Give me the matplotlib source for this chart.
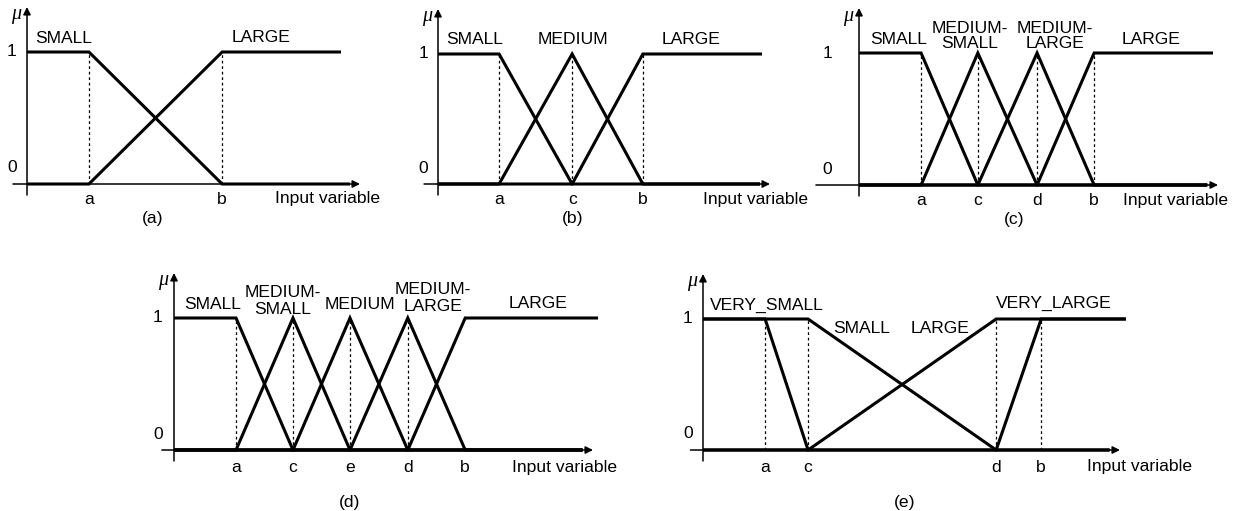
import matplotlib
matplotlib.use('Agg')
import matplotlib.pyplot as plt

plt.rcParams['font.family'] = ['Liberation Sans', 'DejaVu Sans']

W, H, DPI = 1240, 511, 100
FS = 12.6

# ---------------- data (input-variable breakpoints, arrow tip = 10) ----------------
# panel (a)
a_tick_labels = ['a', 'b']
a_tick_x = [1.86, 5.86]
a_dotted_x = [1.86, 5.86]
a_set_names = ['SMALL', 'LARGE']
a_set_x = [[0, 1.86, 5.86, 9.7], [0, 1.86, 5.86, 9.43]]
a_set_mu = [[1, 1, 0, 0], [0, 0, 1, 1]]

# panel (b)
b_tick_labels = ['a', 'c', 'b']
b_tick_x = [1.84, 4.04, 6.17]
b_dotted_x = [1.84, 4.04, 6.17]
b_set_names = ['SMALL', 'MEDIUM', 'LARGE']
b_set_x = [[0, 1.84, 4.04, 9.7], [0, 1.84, 4.04, 6.17, 9.7], [0, 4.04, 6.17, 9.76]]
b_set_mu = [[1, 1, 0, 0], [0, 0, 1, 0, 0], [0, 0, 1, 1]]

# panel (c)
c_tick_labels = ['a', 'c', 'd', 'b']
c_tick_x = [1.73, 3.31, 4.96, 6.55]
c_dotted_x = [1.73, 3.31, 4.96, 6.55]
c_set_names = ['SMALL', 'MEDIUM-\nSMALL', 'MEDIUM-\nLARGE', 'LARGE']
c_set_x = [[0, 1.73, 3.31, 9.7], [0, 1.73, 3.31, 4.96, 9.7],
           [0, 3.31, 4.96, 6.55, 9.7], [0, 4.96, 6.55, 9.86]]
c_set_mu = [[1, 1, 0, 0], [0, 0, 1, 0, 0], [0, 0, 1, 0, 0], [0, 0, 1, 1]]

# panel (d)
d_tick_labels = ['a', 'c', 'e', 'd', 'b']
d_tick_x = [1.48, 2.84, 4.20, 5.58, 6.95]
d_dotted_x = [1.48, 2.84, 4.20, 5.58]
d_set_names = ['SMALL', 'MEDIUM-\nSMALL', 'MEDIUM', 'MEDIUM-\nLARGE', 'LARGE']
d_set_x = [[0, 1.48, 2.84, 9.75], [0, 1.48, 2.84, 4.20, 9.75], [0, 2.84, 4.20, 5.58, 9.75],
           [0, 4.20, 5.58, 6.95, 9.75], [0, 5.58, 6.95, 10.12]]
d_set_mu = [[1, 1, 0, 0], [0, 0, 1, 0, 0], [0, 0, 1, 0, 0], [0, 0, 1, 0, 0], [0, 0, 1, 1]]

# panel (e)
e_tick_labels = ['a', 'c', 'd', 'b']
e_tick_x = [1.49, 2.52, 7.03, 8.11]
e_dotted_x = [1.49, 2.52, 7.03, 8.11]
e_set_names = ['VERY_SMALL', 'SMALL', 'LARGE', 'VERY_LARGE']
e_set_x = [[0, 1.49, 2.52, 9.75], [0, 2.52, 7.03, 9.75], [0, 2.52, 7.03, 10.14], [0, 7.03, 8.11, 10.14]]
e_set_mu = [[1, 1, 0, 0], [1, 1, 0, 0], [0, 0, 1, 1], [0, 0, 1, 1]]

x_label = 'Input variable'
y_label = '\u03bc'

# ---------------- layout (pixel geometry of each panel) ----------------
panels = [
    dict(cap='(a)', ox=27, y0=184, y1=52, tip=360, ticks=(a_tick_labels, a_tick_x), dots=a_dotted_x,
         sets=(a_set_names, a_set_x, a_set_mu),
         lab_pos=[(1.11, 1.106), (7.03, 1.11)], xl=7.45, capx=3.78, tick_off=15, cap_off=34,
         num_off=15, xstart=-0.42, ls=1.0),
    dict(cap='(b)', ox=438, y0=184, y1=54, tip=770, ticks=(b_tick_labels, b_tick_x), dots=b_dotted_x,
         sets=(b_set_names, b_set_x, b_set_mu),
         lab_pos=[(1.11, 1.108), (4.07, 1.108), (7.62, 1.108)], xl=7.98, capx=4.07, tick_off=15,
         cap_off=34, num_off=15, xstart=-0.42, ls=1.0),
    dict(cap='(c)', ox=859, y0=185, y1=53, tip=1218, ticks=(c_tick_labels, c_tick_x), dots=c_dotted_x,
         sets=(c_set_names, c_set_x, c_set_mu),
         lab_pos=[(1.09, 1.10), (3.09, 1.13), (5.46, 1.13), (8.13, 1.106)], xl=7.35, capx=4.32,
         tick_off=15, cap_off=34, num_off=32, xstart=-1.2, ls=1.0),
    dict(cap='(d)', ox=174, y0=450, y1=318, tip=593, ticks=(d_tick_labels, d_tick_x), dots=d_dotted_x,
         sets=(d_set_names, d_set_x, d_set_mu),
         lab_pos=[(0.93, 1.10), (2.60, 1.13), (4.44, 1.10), (6.18, 1.15), (8.69, 1.11)], xl=8.07,
         capx=4.20, tick_off=17, cap_off=52, num_off=16, xstart=-0.29, ls=1.15),
    dict(cap='(e)', ox=703, y0=450, y1=319, tip=1120, ticks=(e_tick_labels, e_tick_x), dots=e_dotted_x,
         sets=(e_set_names, e_set_x, e_set_mu),
         lab_pos=[(1.53, 1.107), (3.81, 0.924), (5.68, 0.924), (8.42, 1.12)], xl=9.21,
         capx=4.84, tick_off=17, cap_off=52, num_off=15, xstart=-0.3, ls=1.0),
]

fig = plt.figure(figsize=(W / DPI, H / DPI), dpi=DPI)
fig.patch.set_facecolor('white')

XL, XR, YB, YT = -1.5, 11.0, -0.6, 1.5
for p in panels:
    unit = (p['tip'] - p['ox']) / 10.0
    h = p['y0'] - p['y1']
    left_px = p['ox'] + XL * unit
    width_px = (XR - XL) * unit
    bottom_px = (H - p['y0']) + YB * h
    height_px = (YT - YB) * h
    ax = fig.add_axes([left_px / W, bottom_px / H, width_px / W, height_px / H])
    ax.set_xlim(XL, XR)
    ax.set_ylim(YB, YT)
    ax.axis('off')
    ax.patch.set_alpha(0)

    # axes with arrows
    ax.annotate('', xy=(10, 0), xytext=(p['xstart'], 0),
                arrowprops=dict(arrowstyle='-|>', lw=1.1, color='black', mutation_scale=11,
                                shrinkA=0, shrinkB=0))
    ytop = 1 + 45.0 / h
    ax.annotate('', xy=(0, ytop), xytext=(0, -11.0 / h),
                arrowprops=dict(arrowstyle='-|>', lw=1.1, color='black', mutation_scale=11,
                                shrinkA=0, shrinkB=0))
    ax.annotate(y_label, xy=(0, ytop), xytext=(-11, -8), textcoords='offset pixels',
                ha='center', va='center', fontsize=14.5, style='italic',
                family=['Liberation Serif', 'DejaVu Serif'])

    # dotted guides
    for xd in p['dots']:
        ax.plot([xd, xd], [0, 1], color='black', lw=0.9, linestyle=(0, (2.2, 2.2)))

    # membership functions
    names, xs, mus = p['sets']
    for xv, mv in zip(xs, mus):
        ax.plot(xv, mv, color='black', lw=2.2, solid_joinstyle='miter', solid_capstyle='butt')
    for name, (tx, ty) in zip(names, p['lab_pos']):
        ax.text(tx, ty, name, ha='center', va='center', fontsize=FS, linespacing=p['ls'])

    # level labels
    ax.annotate('1', xy=(0, 1), xytext=(-p['num_off'], 0), textcoords='offset pixels',
                ha='center', va='center', fontsize=FS)
    ax.annotate('0', xy=(0, 0), xytext=(-p['num_off'], 16), textcoords='offset pixels',
                ha='center', va='center', fontsize=FS)

    # tick letters
    tl, tx = p['ticks']
    for lab, xv in zip(tl, tx):
        ax.annotate(lab, xy=(xv, 0), xytext=(0, -p['tick_off']), textcoords='offset pixels',
                    ha='center', va='center', fontsize=FS)
    ax.annotate(x_label, xy=(p['xl'], 0), xytext=(0, -p['tick_off']), textcoords='offset pixels',
                ha='left', va='center', fontsize=FS)
    ax.annotate(p['cap'], xy=(p['capx'], 0), xytext=(0, -p['cap_off']), textcoords='offset pixels',
                ha='center', va='center', fontsize=FS)

fig.savefig('out.png', dpi=DPI, facecolor='white')
